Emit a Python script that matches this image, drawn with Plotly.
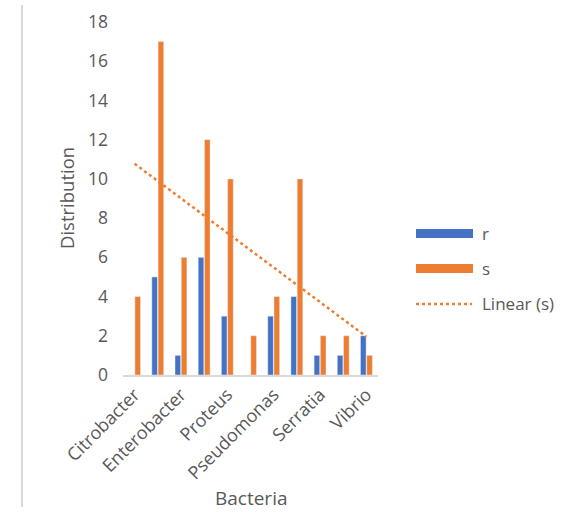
import numpy as np
import plotly.graph_objects as go

# Bacteria categories (only every other name is printed on the axis)
bacteria = ["Citrobacter", "Edwardsiella", "Enterobacter", "Klebsiella", "Proteus",
            "Providencia", "Pseudomonas", "Salmonella", "Serratia", "Shigella", "Vibrio"]
shown_labels = bacteria[::2]

r_values = [0, 5, 1, 6, 3, 0, 3, 4, 1, 1, 2]
s_values = [4, 17, 6, 12, 10, 2, 4, 10, 2, 2, 1]

y_ticks = [0, 2, 4, 6, 8, 10, 12, 14, 16, 18]

BLUE = "#4472C4"
ORANGE = "#ED7D31"
TEXT = "#595959"
GRID = "#D9D9D9"
FONT = "Open Sans"

# Linear trend of s over category index
idx = np.arange(len(bacteria))
slope, intercept = np.polyfit(idx, s_values, 1)
trend = slope * idx + intercept

W, H = 565, 512
L, R, T, B = 123, 187, 22, 137
pw, ph = W - L - R, H - T - B


def px_x(px):
    return (px - L) / pw


def px_y(py):
    return (H - B - py) / ph


fig = go.Figure()
fig.add_bar(x=bacteria, y=r_values, name="r", marker_color=BLUE, showlegend=False)
fig.add_bar(x=bacteria, y=s_values, name="s", marker_color=ORANGE, showlegend=False)
fig.add_scatter(x=bacteria, y=trend, mode="lines", name="Linear (s)",
                line=dict(color=ORANGE, width=2.5, dash="dot"), showlegend=False,
                hoverinfo="skip")

shapes = [
    # chart area border on the left
    dict(type="line", xref="paper", yref="paper",
         x0=px_x(22), x1=px_x(22), y0=px_y(5), y1=px_y(507),
         line=dict(color=GRID, width=2)),
    # legend keys
    dict(type="rect", xref="paper", yref="paper",
         x0=px_x(416), x1=px_x(473), y0=px_y(238), y1=px_y(229),
         fillcolor=BLUE, line=dict(width=0)),
    dict(type="rect", xref="paper", yref="paper",
         x0=px_x(416), x1=px_x(473), y0=px_y(273), y1=px_y(264),
         fillcolor=ORANGE, line=dict(width=0)),
    dict(type="line", xref="paper", yref="paper",
         x0=px_x(416), x1=px_x(472), y0=px_y(304), y1=px_y(304),
         line=dict(color=ORANGE, width=2.5, dash="dot")),
]

annotations = [
    dict(text="r", x=px_x(480), y=px_y(234)),
    dict(text="s", x=px_x(480), y=px_y(268)),
    dict(text="Linear (s)", x=px_x(480), y=px_y(303)),
]
annotations = [dict(a, xref="paper", yref="paper", xanchor="left", yanchor="middle",
                    showarrow=False, font=dict(family=FONT, size=17, color=TEXT))
               for a in annotations]
annotations += [
    dict(text="Distribution", xref="paper", yref="paper", x=px_x(66), y=px_y(198),
         textangle=-90, showarrow=False, xanchor="center", yanchor="middle",
         font=dict(family=FONT, size=18.5, color=TEXT)),
    dict(text="Bacteria", xref="paper", yref="paper", x=px_x(251), y=px_y(498),
         showarrow=False, xanchor="center", yanchor="middle",
         font=dict(family=FONT, size=19, color=TEXT)),
]

fig.update_layout(
    width=W, height=H,
    margin=dict(l=L, r=R, t=T, b=B, autoexpand=False),
    paper_bgcolor="white", plot_bgcolor="white",
    barmode="group", bargap=0.46, bargroupgap=0.1,
    font=dict(family=FONT, size=17, color=TEXT),
    shapes=shapes, annotations=annotations,
    xaxis=dict(tickmode="array", tickvals=shown_labels, ticktext=shown_labels,
               tickangle=-45, showline=True, linecolor=GRID, linewidth=2,
               showgrid=False, ticks="", tickfont=dict(size=18, color=TEXT)),
    yaxis=dict(range=[0, 18], tickvals=y_ticks, showgrid=False, zeroline=False,
               showline=False, ticks="", ticklabelstandoff=14,
               tickfont=dict(size=17.5, color=TEXT)),
)

fig.write_html("out.html")
